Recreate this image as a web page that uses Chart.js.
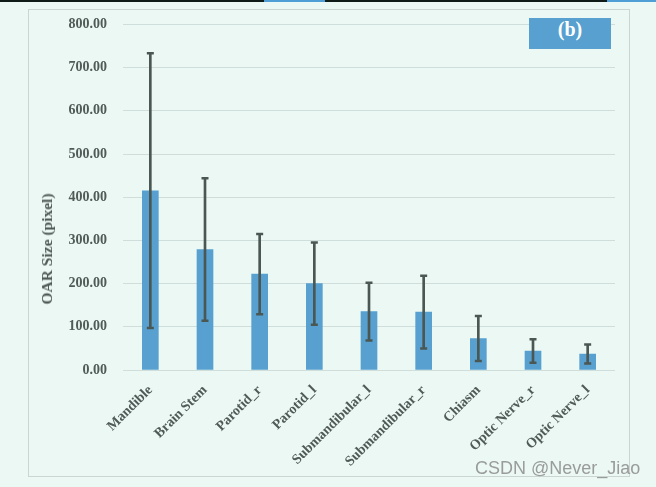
<!DOCTYPE html>
<html>
<head>
<meta charset="utf-8">
<script src="https://cdn.jsdelivr.net/npm/chart.js@4"></script>
<style>
  html, body { margin: 0; padding: 0; }
  body { width: 656px; height: 487px; background: #ebf8f4; position: relative; overflow: hidden; }
  .topbar { position: absolute; left: 0; top: 0; width: 656px; height: 2px; background: #0e1b17; }
  .topblue { position: absolute; top: 0; height: 2px; background: #4f9fd6; }
  .frame { position: absolute; left: 28px; top: 9px; width: 600px; height: 466px; border: 1px solid #cbd6d2; }
  #wrap { position: absolute; left: 28px; top: 0; width: 601px; height: 476px; }
  .ytitle {
    position: absolute; left: 47px; top: 249px;
    transform: translate(-50%, -50%) rotate(-90deg);
    font: bold 15.5px "Liberation Serif", serif; color: #505a57; white-space: nowrap;
  }
  .tag {
    position: absolute; left: 529px; top: 18px; width: 82px; height: 31px;
    background: #57a0cf; color: #fff; text-align: center; line-height: 31px;
    font: bold 20px "Liberation Serif", serif;
  }
  .mark {
    position: absolute; left: 475px; top: 458px;
    font: 18px "Liberation Sans", sans-serif; color: #9a9c9b; white-space: nowrap;
  }
</style>
</head>
<body>
<div class="topbar"></div>
<div class="topblue" style="left:264px;width:61px"></div>
<div class="topblue" style="left:607px;width:49px"></div>
<div class="frame"></div>
<div id="wrap"><canvas id="chart"></canvas></div>
<div class="ytitle">OAR Size (pixel)</div>
<div class="tag">(b)</div>
<div class="mark">CSDN @Never_Jiao</div>
<script>
// 各器官的平均大小和标准差
const organs = ["Mandible", "Brain Stem", "Parotid_r", "Parotid_l", "Submandibular_l",
  "Submandibular_r", "Chiasm", "Optic Nerve_r", "Optic Nerve_l"];
const meanSize = [415, 279, 222, 200, 135, 134, 73, 44, 37];
const sdSize = [318, 165, 93, 95, 67, 84, 52, 27, 22];
const yTicks = [0, 100, 200, 300, 400, 500, 600, 700, 800];

const lowSize = meanSize.map((m, i) => m - sdSize[i]);
const highSize = meanSize.map((m, i) => m + sdSize[i]);

const textColor = "#505a57";
const errColor = "#4b5753";
const gridColor = "#cfdeda";

const capStyle = {
  type: "line",
  showLine: false,
  pointStyle: "line",
  pointRadius: 3.5,
  borderWidth: 2.5,
  borderColor: errColor,
  order: 1,
};

new Chart(document.getElementById("chart"), {
  data: {
    labels: organs,
    datasets: [
      {
        type: "bar",
        data: meanSize,
        backgroundColor: "#57a0cf",
        barThickness: 16,
        grouped: false,
        order: 3,
      },
      {
        type: "bar",
        data: lowSize.map((lo, i) => [lo, highSize[i]]),
        backgroundColor: errColor,
        barThickness: 2,
        grouped: false,
        order: 2,
      },
      { ...capStyle, data: highSize },
      { ...capStyle, data: lowSize },
    ],
  },
  options: {
    responsive: true,
    maintainAspectRatio: false,
    animation: false,
    layout: { padding: { top: 5, right: 14, left: 0, bottom: 0 } },
    plugins: { legend: { display: false }, tooltip: { enabled: false } },
    scales: {
      x: {
        grid: { display: false, drawTicks: false },
        border: { display: false },
        ticks: {
          autoSkip: false,
          maxRotation: 45,
          minRotation: 45,
          padding: 12,
          color: textColor,
          font: { family: "Liberation Serif", weight: "bold", size: 14 },
        },
        afterFit: (s) => { s.height = 106; },
      },
      y: {
        min: 0,
        max: 800,
        afterBuildTicks: (s) => { s.ticks = yTicks.map((v) => ({ value: v })); },
        grid: { color: gridColor, drawTicks: false },
        border: { display: false },
        ticks: {
          padding: 16,
          color: textColor,
          font: { family: "Liberation Serif", weight: "bold", size: 14 },
          callback: (v) => Number(v).toFixed(2),
        },
        afterFit: (s) => { s.width = 95; },
      },
    },
  },
});
</script>
</body>
</html>
